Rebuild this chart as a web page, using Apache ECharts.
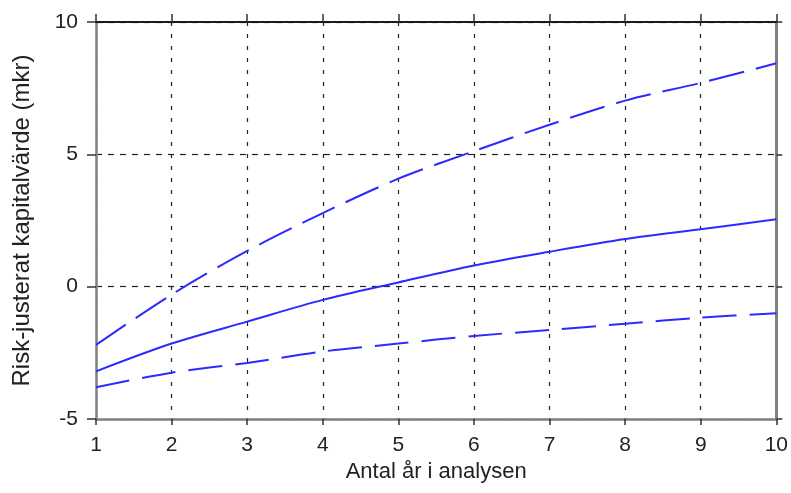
<!DOCTYPE html>
<html>
<head>
<meta charset="utf-8">
<script src="https://cdn.jsdelivr.net/npm/echarts@6/dist/echarts.min.js"></script>
<style>
  html, body { margin: 0; padding: 0; background: #fff; }
  #chartBox { width: 791px; height: 493px; }
</style>
</head>
<body>
<div id="chartBox"></div>
<script>
// år i analysen
var years = [1, 2, 3, 4, 5, 6, 7, 8, 9, 10];
// riskjusterat kapitalvärde (mkr)
var upperVals = [-2.2, -0.3, 1.35, 2.78, 4.08, 5.12, 6.12, 7.03, 7.7, 8.44];
var middleVals = [-3.2, -2.15, -1.32, -0.5, 0.16, 0.8, 1.32, 1.8, 2.17, 2.55];
var lowerVals = [-3.8, -3.25, -2.88, -2.45, -2.15, -1.86, -1.64, -1.4, -1.17, -1.0];

function toPairs(vals) {
    var out = [];
    for (var i = 0; i < years.length; i++) {
        out.push([years[i], vals[i]]);
    }
    return out;
}

var fontName = 'Liberation Sans';
var blue = '#2b2bff';

var myChart = echarts.init(document.getElementById('chartBox'));

var option = {
    animation: false,
    backgroundColor: '#fff',
    grid: {
        left: 96,
        right: 13,
        top: 22,
        bottom: 74
    },
    xAxis: [
        {
            type: 'value',
            min: 1,
            max: 10,
            interval: 1,
            position: 'bottom',
            name: 'Antal år i analysen',
            nameLocation: 'middle',
            nameGap: 42,
            nameTextStyle: { fontFamily: fontName, fontSize: 22, color: '#222' },
            axisLine: { show: true, onZero: false, lineStyle: { color: '#808080', width: 2.5 } },
            axisTick: { show: true, inside: false, length: 6, lineStyle: { color: '#333', width: 1.5 } },
            axisLabel: { margin: 16, fontFamily: fontName, fontSize: 21, color: '#222' },
            splitLine: { show: true, lineStyle: { color: '#222', width: 1.2, type: [4, 8] } }
        },
        {
            type: 'value',
            min: 1,
            max: 10,
            interval: 1,
            position: 'top',
            axisLine: { show: true, onZero: false, lineStyle: { color: '#1a1a1a', width: 2 } },
            axisTick: { show: true, inside: false, length: 8, lineStyle: { color: '#333', width: 1.5 } },
            axisLabel: { show: false },
            splitLine: { show: false }
        }
    ],
    yAxis: [
        {
            type: 'value',
            min: -5,
            max: 10,
            interval: 5,
            position: 'left',
            name: 'Risk-justerat kapitalvärde (mkr)',
            nameLocation: 'middle',
            nameGap: 62,
            nameTextStyle: { fontFamily: fontName, fontSize: 24, color: '#222' },
            axisLine: { show: true, onZero: false, lineStyle: { color: '#808080', width: 2.5 } },
            axisTick: { show: true, inside: false, length: 9, lineStyle: { color: '#333', width: 1.5 } },
            axisLabel: { margin: 18, fontFamily: fontName, fontSize: 21, color: '#222' },
            splitLine: { show: true, lineStyle: { color: '#222', width: 1.2, type: [6, 6] } }
        },
        {
            type: 'value',
            min: -5,
            max: 10,
            interval: 5,
            position: 'right',
            axisLine: { show: true, onZero: false, lineStyle: { color: '#808080', width: 3 } },
            axisTick: { show: true, inside: false, length: 6, lineStyle: { color: '#333', width: 1.5 } },
            axisLabel: { show: false },
            splitLine: { show: false }
        }
    ],
    series: [
        {
            name: 'övre',
            type: 'line',
            smooth: 0.3,
            symbol: 'none',
            xAxisIndex: 0,
            yAxisIndex: 0,
            lineStyle: { color: blue, width: 2, type: [36, 12] },
            data: toPairs(upperVals)
        },
        {
            name: 'median',
            type: 'line',
            smooth: 0.3,
            symbol: 'none',
            xAxisIndex: 0,
            yAxisIndex: 0,
            lineStyle: { color: blue, width: 2, type: 'solid' },
            data: toPairs(middleVals)
        },
        {
            name: 'nedre',
            type: 'line',
            smooth: 0.3,
            symbol: 'none',
            xAxisIndex: 0,
            yAxisIndex: 0,
            lineStyle: { color: blue, width: 2, type: [34, 13] },
            data: toPairs(lowerVals)
        }
    ]
};

myChart.setOption(option);
</script>
</body>
</html>
